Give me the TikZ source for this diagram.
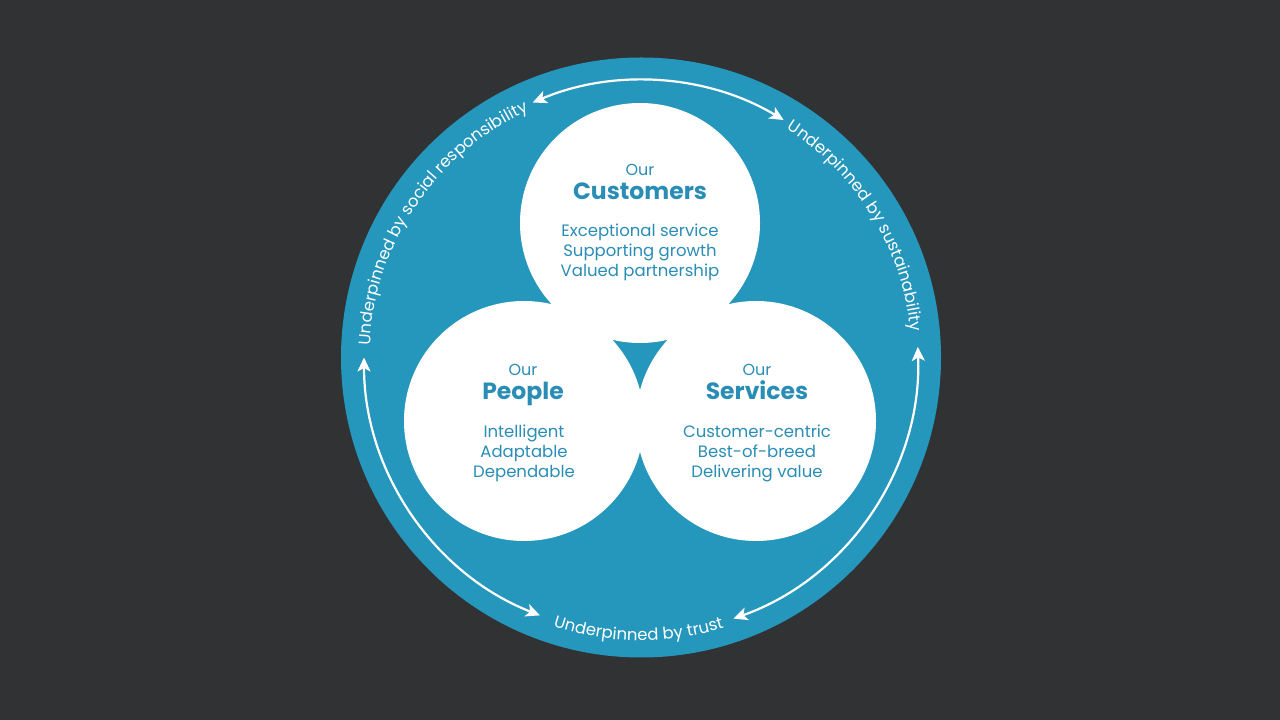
\documentclass[tikz,border=0pt]{standalone}
\usepackage{fontspec}
\setmainfont{Poppins}
\usetikzlibrary{arrows.meta, decorations.text}
\definecolor{bgdark}{HTML}{313234}
\definecolor{ringblue}{HTML}{2596BC}
\definecolor{textblue}{HTML}{2A8DB5}

\begin{document}
\begin{tikzpicture}[x=1pt, y=1pt,
    > = {Stealth[length=14pt, width=13pt, inset=3.5pt]},
    petal/.style={circle, fill=white, minimum size=240pt, inner sep=0pt},
    ourlabel/.style={anchor=base, text=textblue, font=\fontsize{16}{18}\selectfont},
    titlelabel/.style={anchor=base, text=textblue, font=\fontsize{23.5}{26}\selectfont\bfseries},
    itemlabel/.style={anchor=base, text=textblue, align=center, font=\fontsize{16.5}{20}\selectfont},
    ringarrow/.style={draw=white, line width=2.2pt, <->},
    ringtext/.style={decorate, decoration={text along path, text align=center,
        text color=white, text={|\fontsize{16.5}{16.5}\selectfont|#1}}}]
    \def\R{300}
    \def\ra{277}
    % Background
    \fill [bgdark] (0, 0) rectangle (1280, 720);
    \useasboundingbox (0, 0) rectangle (1280, 720);
    %% Ring
    \coordinate (c) at (641, 362.5);
    \fill [ringblue] (c) circle (\R);
    %% Petals
    \node [petal] (cust) at (640, 497) {};
    \node [petal] (ppl) at (524, 299) {};
    \node [petal] (serv) at (756, 299) {};

    % Labels (items sit on the baseline of their last line)
    \node [ourlabel] (cust-our) at (640, 544) {Our};
    \node [titlelabel] (cust-title) at (640, 520) {Customers};
    \node [itemlabel] (cust-items) at (640, 443)
        {Exceptional service\\Supporting growth\\Valued partnership};
    \node [ourlabel] (ppl-our) at (523, 344) {Our};
    \node [titlelabel] (ppl-title) at (523, 320) {People};
    \node [itemlabel] (ppl-items) at (524, 242)
        {Intelligent\\Adaptable\\Dependable};
    \node [ourlabel] (serv-our) at (757, 344) {Our};
    \node [titlelabel] (serv-title) at (757, 320) {Services};
    \node [itemlabel] (serv-items) at (757, 242)
        {Customer-centric\\Best-of-breed\\Delivering value};

    % Arrows
    \path (c) ++(113:\ra) coordinate (top-l)
          (c) ++(180:\ra) coordinate (left-t)
          (c) ++(2.2:\ra) coordinate (right-t);
    \draw [ringarrow] (top-l) arc [start angle=113, end angle=59, radius=\ra];
    \draw [ringarrow] (left-t) arc [start angle=180, end angle=248.6, radius=\ra];
    \draw [ringarrow] (right-t) arc [start angle=2.2, end angle=-70.5, radius=\ra];

    % Ring texts
    \path [ringtext={Underpinned by social responsibility}]
        (c) ++(190:271) arc [start angle=190, end angle=102, radius=271];
    \path [ringtext={Underpinned by sustainability}]
        (c) ++(75:271) arc [start angle=75, end angle=-12, radius=271];
    \path [ringtext={Underpinned by trust}]
        (c) ++(240:283) arc [start angle=240, end angle=299, radius=283];
\end{tikzpicture}
\end{document}
